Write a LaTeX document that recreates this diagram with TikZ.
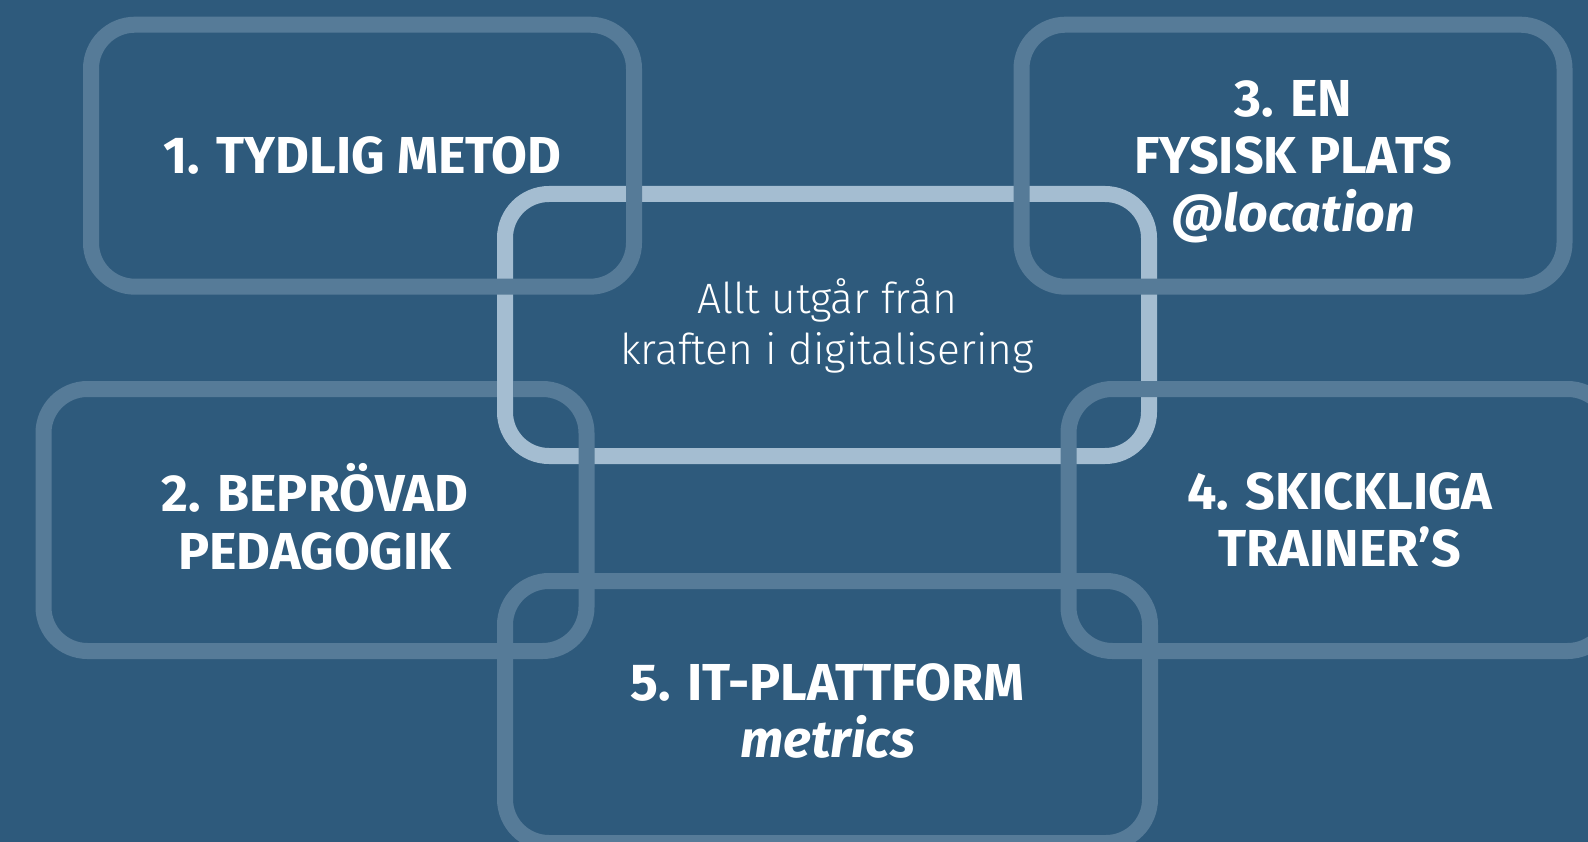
\documentclass[tikz,border=0pt]{standalone}
\usepackage{fontspec}
\setmainfont{Fira Sans}
\newfontfamily\lightfont{Fira Sans Light}
\definecolor{bgc}{HTML}{2E5A7C}
\definecolor{outerc}{HTML}{567B98}
\definecolor{innerc}{HTML}{A4BDD1}
\tikzset{
  ring/.style={draw=outerc, line width=16pt, rounded corners=44pt, inner sep=0pt, outer sep=0pt,
    minimum width=543pt, minimum height=262pt},
  centre/.style={draw=innerc, line width=16pt, rounded corners=44pt, inner sep=0pt, outer sep=0pt,
    minimum width=644pt, minimum height=262pt},
  boldlbl/.style={align=center, text=white, inner sep=0pt,
    font=\fontsize{52}{57.7}\selectfont\bfseries},
  lightlbl/.style={align=center, text=white, inner sep=0pt,
    font=\fontsize{42.5}{50.5}\selectfont\lightfont},
  patch/.style={draw=innerc, line width=16pt, line cap=butt}
}
\begin{document}
\begin{tikzpicture}[x=1pt,y=-1pt]
\fill[bgc] (0,0) rectangle (1588,842);
\useasboundingbox (0,0) rectangle (1588,842);
\clip (0,0) rectangle (1588,842);
\node[centre] (c) at (827,325) {};
\node[lightlbl] (tc) at ([yshift=-1pt]c.center) {Allt utgår från\\kraften i digitalisering};
\node[ring] (b1) at (362.5,155.7) {};
\node[ring] (b3) at (1293,155.7) {};
\node[ring] (b2) at (315,520) {};
\node[ring] (b4) at (1340,520) {};
\node[ring, minimum width=645pt] (b5) at (827.5,712) {};
\draw[patch] ([yshift=14pt]c.west |- b2.north) -- ([yshift=-14pt]c.west |- b2.north);
\node[boldlbl] (t1) at (b1.center) {1. TYDLIG METOD};
\node[boldlbl] (t3) at ([yshift=-6pt]b3.center) {3. EN\\FYSISK PLATS\\\itshape @location};
\node[boldlbl] (t2) at ([yshift=3pt]b2.center) {2. BEPRÖVAD\\PEDAGOGIK};
\node[boldlbl] (t4) at (b4.center) {4. SKICKLIGA\\TRAINER’S};
\node[boldlbl] (t5) at ([yshift=1pt]b5.center) {5. IT-PLATTFORM\\\itshape metrics};
\end{tikzpicture}
\end{document}
